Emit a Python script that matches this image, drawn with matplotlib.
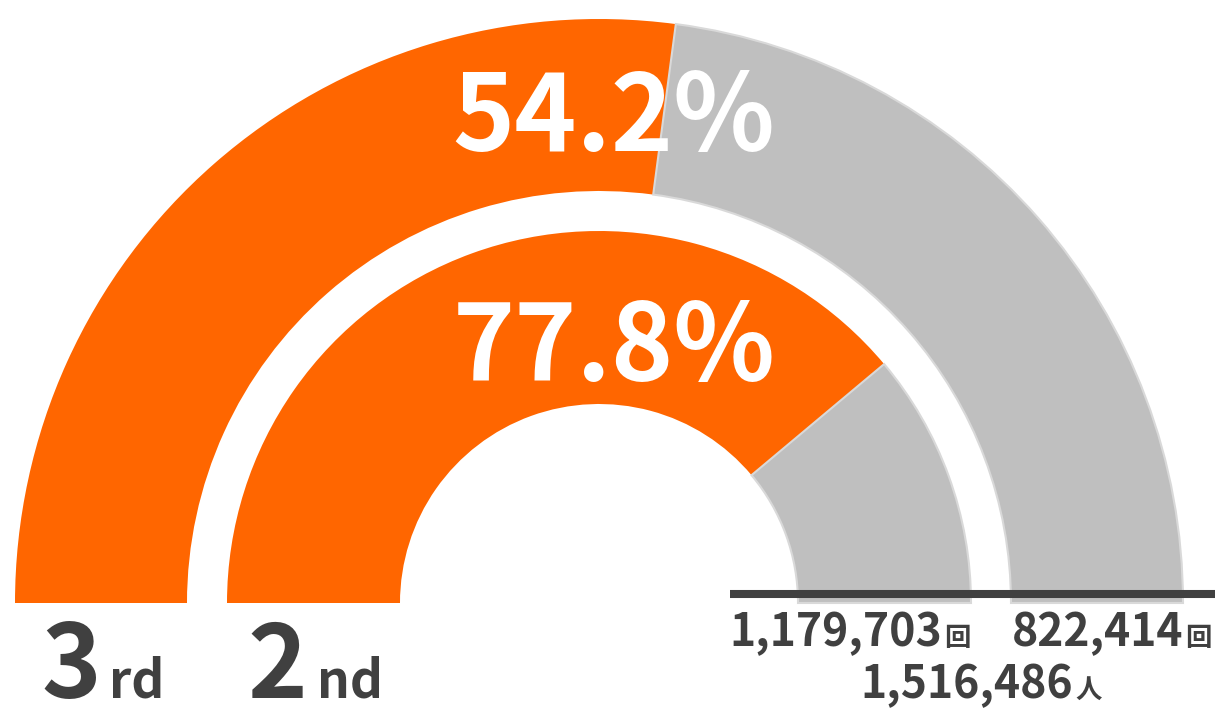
import matplotlib.pyplot as plt
from matplotlib.patches import Wedge

plt.rcParams['font.family'] = ['Noto Sans CJK JP', 'DejaVu Sans']

# --- DATA ---
ring_nums = ["3", "2"]
ring_suffix = ["rd", "nd"]
shares = [54.2, 77.8]              # % of total (outer ring, inner ring)
counts = ["822,414", "1,179,703"]  # 回
count_unit = "回"
total = "1,516,486"
total_unit = "人"

ORANGE = "#FF6600"
GREY = "#BFBFBF"
DARK = "#404040"

W, H = 1215, 709
cx, cy = 599, H - 603
radii = [(412, 584), (199, 372)]   # (inner, outer) for each ring

fig = plt.figure(figsize=(W / 100, H / 100), dpi=100)
ax = fig.add_axes([0, 0, 1, 1])
ax.set_xlim(0, W)
ax.set_ylim(0, H)
ax.axis("off")

# --- rings ---
for pct, (r_in, r_out) in zip(shares, radii):
    split = 180 - 180 * pct / 100
    ax.add_patch(Wedge((cx, cy), r_out, split, 180, width=r_out - r_in,
                       facecolor=ORANGE, edgecolor="none"))
    ax.add_patch(Wedge((cx, cy), r_out, 0, split, width=r_out - r_in,
                       facecolor=GREY, edgecolor="#D9D9D9", linewidth=1.5))

# percent labels
pct_y = [H - 151, H - 381]
for pct, y in zip(shares, pct_y):
    ax.text(614, y, f"{pct:.1f}%", color="white", fontsize=76, fontweight="bold",
            ha="center", va="baseline")

# baseline
ax.plot([730, W], [H - 594, H - 594], color=DARK, lw=5.8, solid_capstyle="butt")

# ring names under left ends
name_x = [(101, 109), (307, 317)]
for num, suf, (xn, xs) in zip(ring_nums, ring_suffix, name_x):
    ax.text(xn, H - 698, num, color=DARK, fontsize=73, fontweight="bold",
            ha="right", va="baseline")
    ax.text(xs, H - 698, suf, color=DARK, fontsize=37, fontweight="bold",
            ha="left", va="baseline")

# counts under right ends
count_x = [1183, 942]
for c, x in zip(counts, count_x):
    ax.text(x, H - 646, c, color=DARK, fontsize=32, fontweight="bold",
            ha="right", va="baseline")
    ax.text(x + 2, H - 646, count_unit, color=DARK, fontsize=19, fontweight="bold",
            ha="left", va="baseline")

ax.text(1073, H - 698, total, color=DARK, fontsize=32, fontweight="bold",
        ha="right", va="baseline")
ax.text(1075, H - 698, total_unit, color=DARK, fontsize=19, fontweight="bold",
        ha="left", va="baseline")

fig.savefig("out.png", dpi=100, facecolor="white")
